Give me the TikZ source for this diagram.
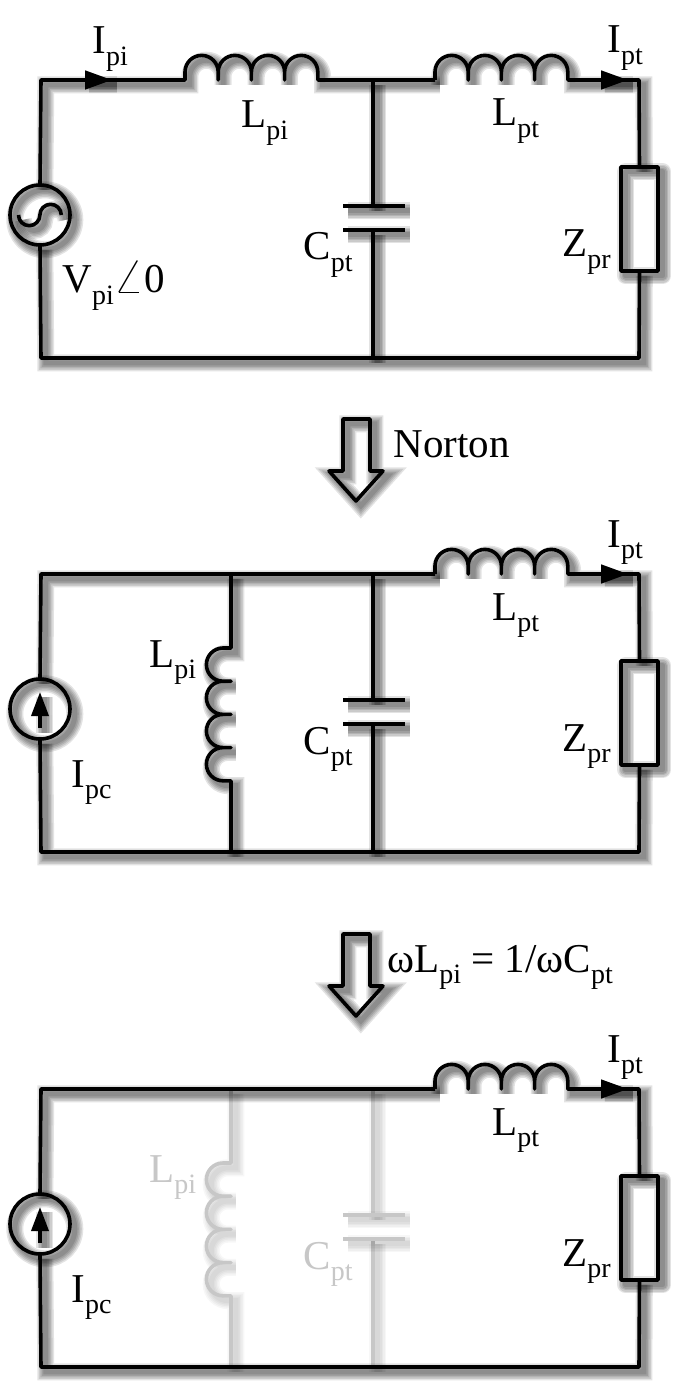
\documentclass[tikz,border=0pt]{standalone}
\usepackage{fontspec}
\setmainfont{Liberation Serif}
\usepackage{tikz}
\usetikzlibrary{arrows.meta}
\newcommand{\lab}[2]{#1\raisebox{-0.27em}{\fontsize{14}{14}\selectfont #2}}
\newcommand{\hbump}{-- ++(0,-8) arc (180:360:16.6) -- ++(0,8)}
\newcommand{\vbump}{-- ++(-8,0) arc (270:90:16.6) -- ++(8,0)}
\colorlet{fadegray}{black!22}
\tikzset{
	blur/.style={preaction={draw=black,opacity=#1,line width=8.5pt,transform canvas={xshift=2.4pt,yshift=-2.4pt}},
		preaction={draw=black,opacity=#1,line width=7pt,transform canvas={xshift=2.4pt,yshift=-2.4pt}},
		preaction={draw=black,opacity=#1,line width=5.5pt,transform canvas={xshift=2.4pt,yshift=-2.4pt}},
		preaction={draw=black,opacity=#1,line width=4pt,transform canvas={xshift=2.4pt,yshift=-2.4pt}},
		preaction={draw=black,opacity=#1,line width=2.5pt,transform canvas={xshift=2.4pt,yshift=-2.4pt}}},
	wire/.style={blur=.11,draw=black,line width=1.8pt,line join=round},
	fadewire/.style={blur=.03,draw=fadegray,line width=1.8pt,line join=round},
	lbl/.style={inner sep=0pt,anchor=base west,font=\fontsize{20.5}{24}\selectfont},
	fadelbl/.style={lbl,text=fadegray},
	source/.style={wire,circle,minimum size=30pt,inner sep=0pt,outer sep=0pt},
	load/.style={wire,rectangle,minimum width=18.5pt,minimum height=52pt,inner sep=0pt,outer sep=0pt},
	head/.style={draw=black,line width=1.8pt,-{Triangle[length=#1]}}
}
\begin{document}
\begin{tikzpicture}[x=0.5pt,y=-0.5pt]
	\fill[white] (0,0) rectangle (691,1395);
	\useasboundingbox (0,0) rectangle (691,1395);
	% parts which only the lower two circuits have
	\foreach \c/\dy/\wr/\tl in {b/494/wire/lbl,c/1009/fadewire/fadelbl}{
		\begin{scope}[shift={(0,\dy)}]
			\coordinate (\c-lt) at (231,80);
			\coordinate (\c-ls) at (231,154);
			\coordinate (\c-lb) at (231,358);
			\draw[\wr] (\c-lt) -- (\c-ls) \vbump \vbump \vbump \vbump -- (\c-lb);
			\node[\tl] (\c-Lpi) at (149,173) {\lab{L}{pi}};
		\end{scope}
	}
	% right part, the same in all of them
	\foreach \c/\dy/\wr/\tl in {a/0/wire/lbl,b/494/wire/lbl,c/1009/fadewire/fadelbl}{
		\begin{scope}[shift={(0,\dy)}]
			\coordinate (\c-ct) at (373,80);
			\coordinate (\c-cu) at (373,206);
			\coordinate (\c-cl) at (373,230);
			\coordinate (\c-cb) at (373,358);
			\draw[\wr] (\c-ct) -- (\c-cu);
			\draw[\wr] (\c-cl) -- (\c-cb);
			\draw[\wr] (343,206) -- (405,206);
			\draw[\wr] (343,230) -- (405,230);
			\node[\tl] (\c-Cpt) at (303,260) {\lab{C}{pt}};
		\end{scope}
	}
	\foreach \c/\dy in {a/0,b/494,c/1009}{
		\begin{scope}[shift={(0,\dy)}]
			\coordinate (\c-tl) at (41,80);
			\coordinate (\c-bl) at (41,358);
			\coordinate (\c-tr) at (639,80);
			\coordinate (\c-br) at (639,358);
			\coordinate (\c-l2s) at (435,80);
			\coordinate (\c-ipb) at (600,80);
			\coordinate (\c-ipt) at (628,80);
			\node[source] (\c-src) at (40,215) {};
			\node[load] (\c-zpr) at (639.5,219) {};
			\draw[wire] (\c-src.south) -- (\c-bl) -- (\c-br) -- (\c-zpr.south);
			\draw[wire] (\c-zpr.north) -- (\c-tr) -- (\c-ipb);
			\draw[wire] (\c-l2s) \hbump \hbump \hbump \hbump -- (\c-ipb);
			\path[blur=.1] (\c-ipb) -- (\c-ipt);
			\draw[head=13.5pt] (\c-ipb) -- (\c-ipt);
			\node[lbl] (\c-Lpt) at (492,126) {\lab{L}{pt}};
			\node[lbl] (\c-Ipt) at (607,53) {\lab{I}{pt}};
			\node[lbl] (\c-Zpr) at (562,257) {\lab{Z}{pr}};
		\end{scope}
	}
	% upper circuit
	\coordinate (a-ipb) at (84,80);
	\coordinate (a-ipi) at (112,80);
	\coordinate (a-l1s) at (185,80);
	\draw[wire] (a-src.north) -- (a-tl) -- (a-l1s) \hbump \hbump \hbump \hbump -- (a-ct) -- (a-l2s);
	\path[blur=.1] (a-ipb) -- (a-ipi);
	\draw[head=13.5pt] (a-ipb) -- (a-ipi);
	\draw[wire] (18.5,215) arc (180:0:10.7) arc (180:360:10.7);
	\node[lbl] (a-Ipi) at (92,54) {\lab{I}{pi}};
	\node[lbl] (a-Lpi) at (241,128) {\lab{L}{pi}};
	\node[lbl] (a-Vpi) at (62,293) {\lab{V}{pi}\scalebox{1.35}[1.2]{$\angle$}0};
	% lower two, current source
	\foreach \c/\dy in {b/494,c/1009}{
		\begin{scope}[shift={(0,\dy)}]
			\draw[wire] (\c-src.north) -- (\c-tl) -- (\c-l2s);
			\coordinate (\c-as) at (40,234);
			\coordinate (\c-am) at (40,216);
			\coordinate (\c-at) at (40,198);
			\draw[wire] (\c-as) -- (\c-am);
			\path[blur=.1] (\c-am) -- (\c-at);
			\draw[draw=black,line width=1.8pt,-{Triangle[length=12pt,width=8.5pt]}] (\c-as) -- (\c-at);
			\node[lbl] (\c-Ipc) at (71,293) {\lab{I}{pc}};
		\end{scope}
	}
	% hollow arrows between the circuits
	\foreach \c/\dy in {n/0,w/515}{
		\begin{scope}[shift={(0,\dy)}]
			\draw[wire] (343,419) -- (370,419) -- (370,471) -- (383,471) -- (356,501) -- (329,471) -- (343,471) -- cycle;
		\end{scope}
	}
	\node[lbl] (norton) at (393,457) {Norton};
	\node[lbl] (reson) at (387,972) {ω\lab{L}{pi} = 1/ω\lab{C}{pt}};
\end{tikzpicture}
\end{document}
